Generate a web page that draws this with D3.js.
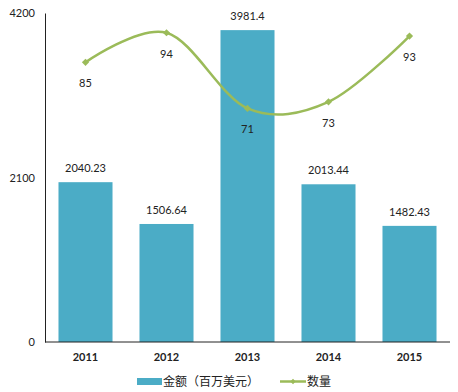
<!DOCTYPE html>
<html><head><meta charset="utf-8">
<script src="https://cdn.jsdelivr.net/npm/d3@7"></script>
<style>body{margin:0;background:#fff}svg{display:block}text{font-family:Lato,"Noto Sans CJK SC",sans-serif}</style>
</head><body><svg id="c" width="458" height="392"></svg>
<script>
const years = ["2011","2012","2013","2014","2015"];
const amounts = [2040.23, 1506.64, 3981.4, 2013.44, 1482.43];
const counts = [85, 94, 71, 73, 93];
const yTicks = [0, 2100, 4200];
const legendLabels = ["金额（百万美元）", "数量"];

const svg = d3.select("#c");
const L = 45, R = 450, T = 13, B = 342;
const x = d3.scaleBand().domain(years).range([L, R]).paddingInner(0.333).paddingOuter(0.1665);
const y = d3.scaleLinear().domain([0, 4200]).range([B, T]);
const y2 = d3.scaleLinear().domain([0, 100]).range([B, T]);
const barColor = "#4bacc6", lineColor = "#9bbb59";

svg.selectAll("rect.bar").data(amounts).join("rect")
  .attr("x", (d,i)=>x(years[i])).attr("width", x.bandwidth())
  .attr("y", d=>y(d)).attr("height", d=>B-y(d)).attr("fill", barColor);

svg.selectAll("text.bl").data(amounts).join("text")
  .attr("x", (d,i)=>x(years[i])+x.bandwidth()/2).attr("y", d=>y(d)-10)
  .attr("text-anchor","middle").attr("font-size",11).attr("fill","#222").text(d=>d);

const ya = svg.append("g").attr("transform",`translate(${L},0)`)
  .call(d3.axisLeft(y).tickValues(yTicks).tickFormat(d3.format("d")).tickSize(0).tickPadding(10));
ya.select(".domain").attr("stroke","#222");
ya.selectAll("text").attr("font-size",11).attr("fill","#222").attr("font-family","Lato,sans-serif");

const xa = svg.append("g").attr("transform",`translate(0,${B})`)
  .call(d3.axisBottom(x).tickSize(0).tickPadding(11));
xa.select(".domain").attr("stroke","#222").attr("d",`M${L},0H${R}`);
xa.selectAll("text").attr("font-size",11).attr("font-weight","bold").attr("fill","#222").attr("font-family","Lato,sans-serif");

const cx = (d,i)=>x(years[i])+x.bandwidth()/2;
const line = d3.line().x(cx).y(d=>y2(d)).curve(d3.curveCatmullRom.alpha(0));
svg.append("path").datum(counts).attr("d", line).attr("fill","none")
  .attr("stroke", lineColor).attr("stroke-width", 2.5);
svg.selectAll("path.m").data(counts).join("path")
  .attr("d", d3.symbol().type(d3.symbolSquare).size(26))
  .attr("transform",(d,i)=>`translate(${cx(d,i)},${y2(d)}) rotate(45)`).attr("fill", lineColor);
svg.selectAll("text.ll").data(counts).join("text")
  .attr("x", cx).attr("y", d=>y2(d)+25)
  .attr("text-anchor","middle").attr("font-size",11).attr("fill","#222").text(d=>d);

// legend
const lg = svg.append("g");
lg.append("rect").attr("x",137).attr("y",378).attr("width",25).attr("height",7).attr("fill",barColor);
lg.append("text").attr("x",163).attr("y",386).attr("font-size",12).attr("fill","#222").text(legendLabels[0]);
lg.append("line").attr("x1",280).attr("x2",306).attr("y1",381.5).attr("y2",381.5).attr("stroke",lineColor).attr("stroke-width",2.5);
lg.append("path").attr("d", d3.symbol().type(d3.symbolSquare).size(14)).attr("transform","translate(293,381.5) rotate(45)").attr("fill",lineColor);
lg.append("text").attr("x",307).attr("y",386).attr("font-size",12).attr("fill","#222").text(legendLabels[1]);
</script></body></html>
